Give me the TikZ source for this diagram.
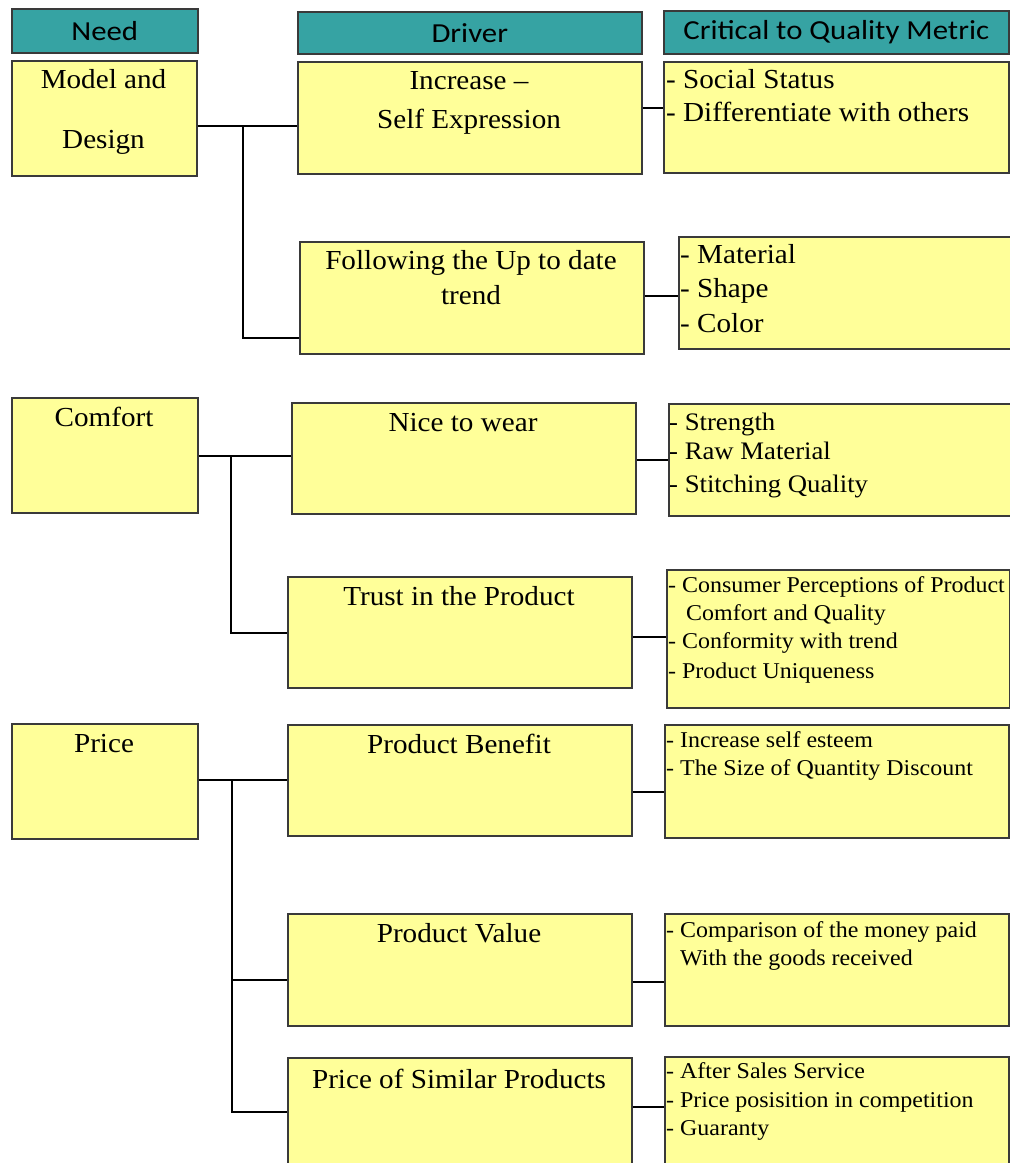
\documentclass[tikz,border=0pt]{standalone}
\usepackage{fontspec}
\setmainfont{Liberation Serif}[FakeStretch=1.06]
\newfontfamily\hdrfont{Carlito}[FakeStretch=1.12]
\definecolor{hdrteal}{HTML}{36A3A3}
\definecolor{boxyellow}{HTML}{FFFF99}
\definecolor{boxline}{HTML}{3A3A3A}
\tikzset{
  hdrbox/.style={draw=boxline, line width=1.5pt, fill=hdrteal, inner sep=0pt,
    anchor=north west, font=\hdrfont\fontsize{27.5}{30}\selectfont},
  ybox/.style={draw=boxline, line width=1.5pt, fill=boxyellow, inner sep=0pt, anchor=north west},
  bigtxt/.style={font=\fontsize{27.5}{33}\selectfont, inner sep=0pt},
  medtxt/.style={font=\fontsize{25.2}{30}\selectfont, inner sep=0pt, anchor=base west},
  smalltxt/.style={font=\fontsize{22.6}{27}\selectfont, inner sep=0pt, anchor=base west},
  link/.style={draw=black, line width=1.8pt},
}
\begin{document}
\begin{tikzpicture}[x=1pt, y=-1pt]
\clip (0,0) rectangle (1010,1163);
\fill[white] (0,0) rectangle (1010,1163);

% headers
\node[hdrbox, minimum width=186pt, minimum height=44pt] (hNeed) at (11,8) {Need};
\node[hdrbox, minimum width=344pt, minimum height=42pt] (hDrv) at (297,11) {Driver};
\node[hdrbox, minimum width=345pt, minimum height=43pt] (hCtq) at (663,10) {Critical to Quality Metric};

% boxes
\node[ybox, minimum width=185pt, minimum height=115pt] (n1) at (11,60) {};
\node[ybox, minimum width=344pt, minimum height=112pt] (d1) at (297,61) {};
\node[ybox, minimum width=345pt, minimum height=111pt] (c1) at (663,61) {};
\node[ybox, minimum width=344pt, minimum height=112pt] (d2) at (299,241) {};
\node[ybox, minimum width=345pt, minimum height=112pt] (c2) at (678,236) {};
\node[ybox, minimum width=186pt, minimum height=115pt] (n2) at (11,397) {};
\node[ybox, minimum width=344pt, minimum height=111pt] (d3) at (291,402) {};
\node[ybox, minimum width=347pt, minimum height=112pt] (c3) at (668,403) {};
\node[ybox, minimum width=344pt, minimum height=111pt] (d4) at (287,576) {};
\node[ybox, minimum width=343pt, minimum height=138pt] (c4) at (666,569) {};
\node[ybox, minimum width=186pt, minimum height=115pt] (n3) at (11,723) {};
\node[ybox, minimum width=344pt, minimum height=111pt] (d5) at (287,724) {};
\node[ybox, minimum width=344pt, minimum height=113pt] (c5) at (664,724) {};
\node[ybox, minimum width=344pt, minimum height=112pt] (d6) at (287,913) {};
\node[ybox, minimum width=344pt, minimum height=112pt] (c6) at (664,913) {};
\node[ybox, minimum width=344pt, minimum height=130pt] (d7) at (287,1057) {};
\node[ybox, minimum width=344pt, minimum height=130pt] (c7) at (664,1056) {};

% texts: needs
\node[bigtxt, anchor=base] (n1a) at (103.5,88) {Model and};
\node[bigtxt, anchor=base] (n1b) at (103.5,148) {Design};
\node[bigtxt, anchor=base] (n2a) at (104,426) {Comfort};
\node[bigtxt, anchor=base] (n3a) at (104,752) {Price};

% texts: drivers
\node[bigtxt, anchor=base] (d1a) at (469,89) {Increase --};
\node[bigtxt, anchor=base] (d1b) at (469,128) {Self Expression};
\node[bigtxt, anchor=base] (d2a) at (471,269) {Following the Up to date};
\node[bigtxt, anchor=base] (d2b) at (471,304) {trend};
\node[bigtxt, anchor=base] (d3a) at (463,431) {Nice to wear};
\node[bigtxt, anchor=base] (d4a) at (459,605) {Trust in the Product};
\node[bigtxt, anchor=base] (d5a) at (459,753) {Product Benefit};
\node[bigtxt, anchor=base] (d6a) at (459,942) {Product Value};
\node[bigtxt, anchor=base] (d7a) at (459,1088) {Price of Similar Products};

% texts: CTQ
\node[bigtxt, anchor=base west] (c1a) at (666,88) {- Social Status};
\node[bigtxt, anchor=base west] (c1b) at (666,121) {- Differentiate with others};
\node[bigtxt, anchor=base west] (c2a) at (680,263) {- Material};
\node[bigtxt, anchor=base west] (c2b) at (680,297) {- Shape};
\node[bigtxt, anchor=base west] (c2c) at (680,332) {- Color};
\node[medtxt] (c3a) at (669,430) {- Strength};
\node[medtxt] (c3b) at (669,459) {- Raw Material};
\node[medtxt] (c3c) at (669,492) {- Stitching Quality};
\node[smalltxt] (c4a) at (668,592) {- Consumer Perceptions of Product};
\node[smalltxt] (c4b) at (686,620) {Comfort and Quality};
\node[smalltxt] (c4c) at (668,648) {- Conformity with trend};
\node[smalltxt] (c4d) at (668,678) {- Product Uniqueness};
\node[smalltxt] (c5a) at (666,747) {- Increase self esteem};
\node[smalltxt] (c5b) at (666,775) {- The Size of Quantity Discount};
\node[smalltxt] (c6a) at (666,937) {- Comparison of the money paid};
\node[smalltxt] (c6b) at (680,965) {With the goods received};
\node[smalltxt] (c7a) at (666,1078) {- After Sales Service};
\node[smalltxt] (c7b) at (666,1107) {- Price posisition in competition};
\node[smalltxt] (c7c) at (666,1135) {- Guaranty};

% junction coordinates
\coordinate (j1) at (243,126);
\coordinate (j1b) at (243,338);
\coordinate (j2) at (231,456);
\coordinate (j2b) at (231,633);
\coordinate (j3) at (232,780);
\coordinate (j3b) at (232,980);
\coordinate (j3c) at (232,1112);
\coordinate (k1) at (0,108);
\coordinate (k2) at (0,296);
\coordinate (k3) at (0,460);
\coordinate (k4) at (0,637);
\coordinate (k5) at (0,792);
\coordinate (k6) at (0,982);
\coordinate (k7) at (0,1107);

% group 1
\draw[link] (n1.east |- j1) -- (d1.west |- j1);
\draw[link] (j1) -- (j1b) -- (d2.west |- j1b);
\draw[link] (d1.east |- k1) -- (c1.west |- k1);
\draw[link] (d2.east |- k2) -- (c2.west |- k2);
% group 2
\draw[link] (n2.east |- j2) -- (d3.west |- j2);
\draw[link] (j2) -- (j2b) -- (d4.west |- j2b);
\draw[link] (d3.east |- k3) -- (c3.west |- k3);
\draw[link] (d4.east |- k4) -- (c4.west |- k4);
% group 3
\draw[link] (n3.east |- j3) -- (d5.west |- j3);
\draw[link] (j3) -- (j3c) -- (d7.west |- j3c);
\draw[link] (j3b) -- (d6.west |- j3b);
\draw[link] (d5.east |- k5) -- (c5.west |- k5);
\draw[link] (d6.east |- k6) -- (c6.west |- k6);
\draw[link] (d7.east |- k7) -- (c7.west |- k7);
\end{tikzpicture}
\end{document}
